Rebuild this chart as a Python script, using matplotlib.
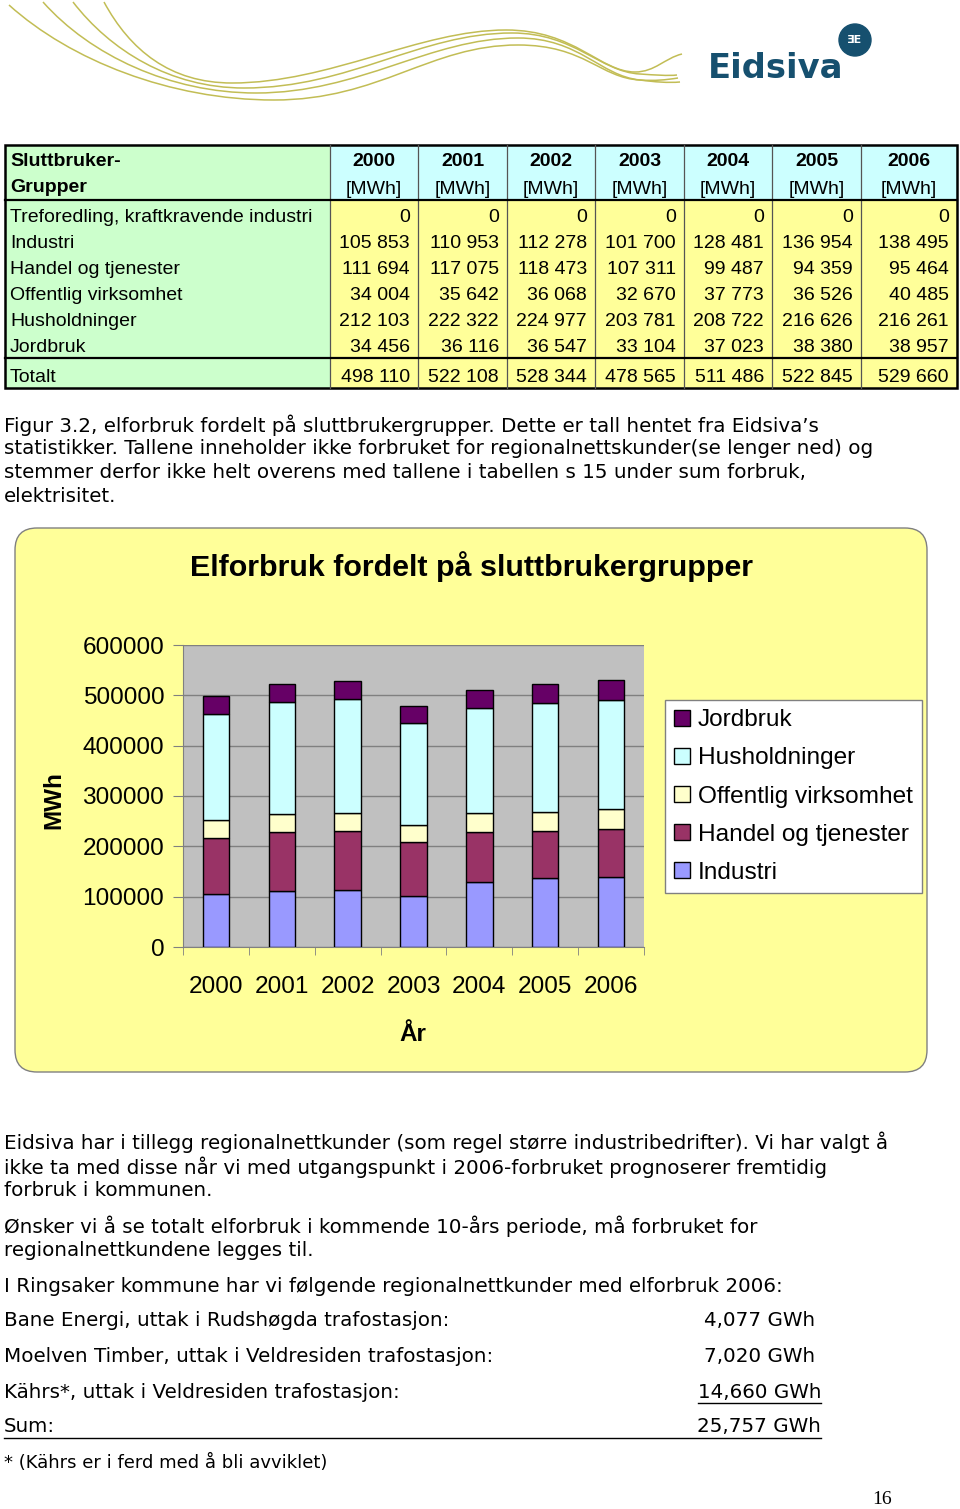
import numpy as np
import matplotlib
matplotlib.use("Agg")
import matplotlib.pyplot as plt
from matplotlib.patches import Rectangle, FancyBboxPatch, PathPatch, Circle, Patch
from matplotlib.path import Path

# ---- data ----
years = ['2000', '2001', '2002', '2003', '2004', '2005', '2006']
groups = ['Treforedling, kraftkravende industri', 'Industri', 'Handel og tjenester',
          'Offentlig virksomhet', 'Husholdninger', 'Jordbruk']
treforedling = [0, 0, 0, 0, 0, 0, 0]
industri = [105853, 110953, 112278, 101700, 128481, 136954, 138495]
handel = [111694, 117075, 118473, 107311, 99487, 94359, 95464]
offentlig = [34004, 35642, 36068, 32670, 37773, 36526, 40485]
husholdninger = [212103, 222322, 224977, 203781, 208722, 216626, 216261]
jordbruk = [34456, 36116, 36547, 33104, 37023, 38380, 38957]
totalt = [498110, 522108, 528344, 478565, 511486, 522845, 529660]

series = [('Industri', industri, '#9999ff'),
          ('Handel og tjenester', handel, '#993366'),
          ('Offentlig virksomhet', offentlig, '#ffffcc'),
          ('Husholdninger', husholdninger, '#ccffff'),
          ('Jordbruk', jordbruk, '#660066')]

kunder = ['Bane Energi, uttak i Rudshøgda trafostasjon:',
          'Moelven Timber, uttak i Veldresiden trafostasjon:',
          'Kährs*, uttak i Veldresiden trafostasjon:']
kunder_gwh = ['4,077 GWh', '7,020 GWh', '14,660 GWh']
sum_gwh = '25,757 GWh'

W, H = 960, 1509
fig = plt.figure(figsize=(W / 100, H / 100), dpi=100)
fig.patch.set_facecolor('white')
pg = fig.add_axes([0, 0, 1, 1])
pg.set_xlim(0, W)
pg.set_ylim(H, 0)
pg.axis('off')

ARIAL = 'Liberation Sans'
BODY = 'DejaVu Sans'
BS = 14.3  # body text size

# ---- logo ----
waves = [
    [(9, 5), (70, 60), (170, 100), (274, 100), (380, 100), (430, 45), (518, 45),
     (585, 45), (600, 78), (640, 80), (655, 81), (665, 80), (678, 78)],
    [(43, 2), (90, 55), (170, 93), (256, 93), (360, 93), (430, 38), (518, 38),
     (580, 38), (600, 76), (640, 80), (655, 82), (668, 83), (680, 82)],
    [(73, 2), (110, 50), (170, 88), (244, 88), (350, 88), (420, 33), (512, 33),
     (575, 33), (600, 72), (640, 74), (655, 75), (668, 76), (677, 75)],
    [(104, 2), (130, 50), (170, 83), (232, 83), (330, 83), (420, 30), (506, 30),
     (575, 30), (600, 72), (635, 72), (655, 72), (665, 58), (682, 54)],
]
for w in waves:
    p = Path(w, [Path.MOVETO] + [Path.CURVE4] * (len(w) - 1))
    pg.add_patch(PathPatch(p, fill=False, edgecolor='#c2bd55', lw=1.1))
blue = '#16506f'
pg.text(708, 68, 'Eidsiva', fontsize=24.3, fontweight='bold', color=blue,
        family=BODY, ha='left', va='center')
pg.add_patch(Circle((855, 40), 16, color=blue))
pg.text(855, 40, 'ƎE', fontsize=8, fontweight='bold', color='white',
        family=BODY, ha='center', va='center')

# ---- table ----
col_edges = [5, 330, 418, 507, 595, 684, 772, 861, 957]
top, hdr_bot = 145, 200
row_h = 26
body_top = 202
tot_top, tot_bot = 358, 388
green, cyan, yellow = '#ccffcc', '#ccffff', '#ffff99'

pg.add_patch(Rectangle((col_edges[0], top), col_edges[1] - col_edges[0], tot_bot - top,
                       facecolor=green, edgecolor='none'))
for i in range(len(years)):
    x0, x1 = col_edges[i + 1], col_edges[i + 2]
    pg.add_patch(Rectangle((x0, top), x1 - x0, hdr_bot - top, facecolor=cyan, edgecolor='none'))
    pg.add_patch(Rectangle((x0, hdr_bot), x1 - x0, tot_bot - hdr_bot, facecolor=yellow,
                           edgecolor='none'))
for x in col_edges[1:-1]:
    pg.plot([x, x], [top, tot_bot], color='#555555', lw=0.9)
for y in (hdr_bot, tot_top):
    pg.plot([col_edges[0], col_edges[-1]], [y, y], color='black', lw=1.6)
pg.add_patch(Rectangle((col_edges[0], top), col_edges[-1] - col_edges[0], tot_bot - top,
                       fill=False, edgecolor='black', lw=1.8))

pg.text(10, 161, 'Sluttbruker-', fontsize=14, fontweight='bold', family=ARIAL, va='center')
pg.text(10, 188, 'Grupper', fontsize=14, fontweight='bold', family=ARIAL, va='center')
for i, yr in enumerate(years):
    xc = (col_edges[i + 1] + col_edges[i + 2]) / 2
    pg.text(xc, 161, yr, fontsize=14, fontweight='bold', family=ARIAL, ha='center', va='center')
    pg.text(xc, 189, '[MWh]', fontsize=14, family=ARIAL, ha='center', va='center')

table_rows = [treforedling, industri, handel, offentlig, husholdninger, jordbruk]
fmt = lambda v: f'{v:,}'.replace(',', ' ')
for r, (name, vals) in enumerate(zip(groups, table_rows)):
    yc = body_top + row_h * r + 15
    pg.text(10, yc, name, fontsize=14, family=ARIAL, va='center')
    for i, v in enumerate(vals):
        pg.text(col_edges[i + 2] - 8, yc, fmt(v), fontsize=14, family=ARIAL,
                ha='right', va='center')
pg.text(10, 377, 'Totalt', fontsize=14, family=ARIAL, va='center')
for i, v in enumerate(totalt):
    pg.text(col_edges[i + 2] - 8, 377, fmt(v), fontsize=14, family=ARIAL, ha='right', va='center')

# ---- caption ----
caption = ["Figur 3.2, elforbruk fordelt på sluttbrukergrupper. Dette er tall hentet fra Eidsiva’s",
           "statistikker. Tallene inneholder ikke forbruket for regionalnettskunder(se lenger ned) og",
           "stemmer derfor ikke helt overens med tallene i tabellen s 15 under sum forbruk,",
           "elektrisitet."]
for k, line in enumerate(caption):
    pg.text(4, 425 + 23.7 * k, line, fontsize=BS, family=BODY, va='center')

# ---- chart ----
pg.add_patch(FancyBboxPatch((15, 528), 912, 544, boxstyle='round,pad=0,rounding_size=22',
                            facecolor='#ffff99', edgecolor='#808080', lw=1.0))
L, R, T, B = 183, 644, 645, 947
ax = fig.add_axes([L / W, 1 - B / H, (R - L) / W, (B - T) / H])
ax.set_facecolor('#c0c0c0')
x = np.arange(len(years))
bottom = np.zeros(len(years))
for name, vals, col in series:
    ax.bar(x, vals, width=0.4, bottom=bottom, color=col, edgecolor='black', lw=1.0,
           label=name, zorder=3)
    bottom += np.array(vals)
ax.set_xlim(-0.5, len(years) - 0.5)
ax.set_ylim(0, 600000)
ax.set_yticks(np.arange(0, 600001, 100000))
ax.yaxis.grid(True, color='#808080', lw=1.0, zorder=1)
ax.set_axisbelow(True)
for s in ax.spines.values():
    s.set_color('#808080')
ax.spines['top'].set_visible(False)
ax.spines['right'].set_visible(False)
ax.tick_params(axis='y', length=7, color='#808080', labelsize=17.6, pad=6.5)
ax.set_yticklabels([str(v) for v in range(0, 600001, 100000)], family=ARIAL)
ax.set_xticks(x)
ax.set_xticklabels(years, family=ARIAL, fontsize=17.6)
ax.tick_params(axis='x', which='major', length=0, pad=21)
ax.set_xticks(np.arange(-0.5, len(years)), minor=True)
ax.tick_params(axis='x', which='minor', length=6, color='#808080')
ax.set_ylabel('MWh', family=ARIAL, fontsize=17.5, fontweight='bold')
ax.yaxis.set_label_coords(-0.255, 0.487)
ax.set_xlabel('År', family=ARIAL, fontsize=17.5, fontweight='bold')
ax.xaxis.set_label_coords(0.499, -0.252)
fig.text(471 / W, 1 - 567 / H, 'Elforbruk fordelt på sluttbrukergrupper', family=ARIAL,
         fontsize=21.9, fontweight='bold', ha='center', va='center')

handles = [Patch(facecolor=c, edgecolor='black', lw=1.0) for _, _, c in series][::-1]
labels = [n for n, _, _ in series][::-1]
leg = ax.legend(handles, labels, loc='upper left', bbox_to_anchor=(665 / W, 1 - 700 / H),
                bbox_transform=fig.transFigure, borderaxespad=0, fancybox=False,
                edgecolor='#808080', framealpha=1, prop={'family': ARIAL, 'size': 17.6},
                handlelength=0.65, handleheight=0.65, handletextpad=0.3, labelspacing=0.66,
                borderpad=0.38)
leg.get_frame().set_linewidth(1.0)

# ---- text below ----
para = [(1142, "Eidsiva har i tillegg regionalnettkunder (som regel større industribedrifter). Vi har valgt å"),
        (1167, "ikke ta med disse når vi med utgangspunkt i 2006-forbruket prognoserer fremtidig"),
        (1191, "forbruk i kommunen."),
        (1226, "Ønsker vi å se totalt elforbruk i kommende 10-års periode, må forbruket for"),
        (1250, "regionalnettkundene legges til."),
        (1286, "I Ringsaker kommune har vi følgende regionalnettkunder med elforbruk 2006:")]
for y, line in para:
    pg.text(4, y, line, fontsize=BS, family=BODY, va='center')

for k, (name, val) in enumerate(zip(kunder, kunder_gwh)):
    y = 1321 + 35.5 * k
    pg.text(4, y, name, fontsize=BS, family=BODY, va='center')
    pg.text(815 if k < 2 else 821, y, val, fontsize=BS, family=BODY, va='center', ha='right')
pg.plot([698, 821], [1403, 1403], color='black', lw=1.0)
pg.text(4, 1427, 'Sum:', fontsize=BS, family=BODY, va='center')
pg.text(821, 1427, sum_gwh, fontsize=BS, family=BODY, va='center', ha='right')
pg.plot([4, 821], [1438, 1438], color='black', lw=1.0)
pg.text(4, 1463, '* (Kährs er i ferd med å bli avviklet)', fontsize=13, family=BODY, va='center')
pg.text(882, 1500, '16', fontsize=14, family='Liberation Serif', ha='center', va='center')

fig.savefig('out.png', dpi=100, facecolor='white')
